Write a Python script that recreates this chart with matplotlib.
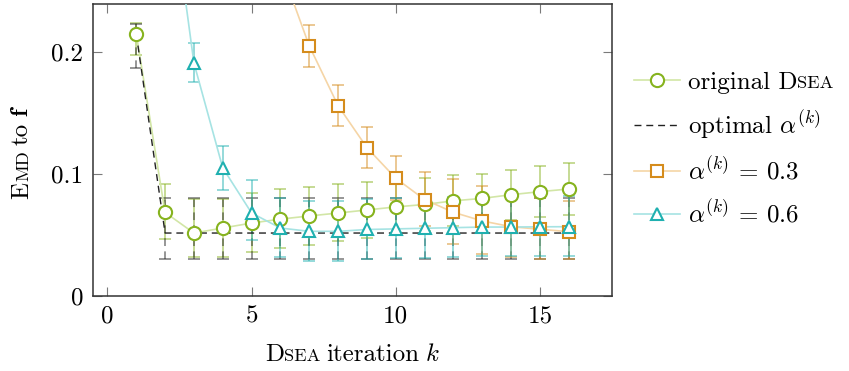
import matplotlib
matplotlib.use("Agg")
import matplotlib.pyplot as plt
from matplotlib.lines import Line2D
from matplotlib.transforms import IdentityTransform
import numpy as np

plt.rcParams['font.family'] = ['cmr10']
plt.rcParams['mathtext.fontset'] = 'cm'
plt.rcParams['axes.unicode_minus'] = False
plt.rcParams['axes.formatter.use_mathtext'] = True

# ---------------- data ----------------
k = list(range(1, 17))

orig_y = [0.2148, 0.0685, 0.0516, 0.0557, 0.0598, 0.0630, 0.0656, 0.0680,
          0.0705, 0.0730, 0.0750, 0.0780, 0.0800, 0.0830, 0.0855, 0.0877]
orig_lo = [0.017, 0.022, 0.020, 0.024, 0.024, 0.024, 0.024, 0.023,
           0.023, 0.022, 0.022, 0.021, 0.021, 0.021, 0.021, 0.021]
orig_hi = [0.009, 0.023, 0.028, 0.024, 0.025, 0.025, 0.024, 0.024,
           0.023, 0.023, 0.022, 0.021, 0.020, 0.020, 0.021, 0.021]

opt_y = [0.2148, 0.0516, 0.0516, 0.0516, 0.0516, 0.0516, 0.0516, 0.0516,
         0.0516, 0.0516, 0.0516, 0.0516, 0.0516, 0.0516, 0.0516, 0.0516]
opt_lo = [0.028, 0.021, 0.021, 0.021, 0.021, 0.021, 0.021, 0.021,
          0.021, 0.021, 0.021, 0.021, 0.021, 0.021, 0.021, 0.021]
opt_hi = [0.008, 0.029, 0.029, 0.029, 0.029, 0.029, 0.029, 0.029,
          0.029, 0.029, 0.029, 0.029, 0.029, 0.029, 0.029, 0.029]

a03_y = [0.62, 0.52, 0.43, 0.36, 0.30, 0.270, 0.205, 0.156,
         0.1216, 0.0965, 0.0790, 0.0686, 0.0615, 0.0568, 0.0547, 0.0527]
a03_lo = [0.02, 0.02, 0.02, 0.02, 0.02, 0.017, 0.017, 0.017,
          0.017, 0.018, 0.022, 0.026, 0.027, 0.025, 0.024, 0.022]
a03_hi = [0.02, 0.02, 0.02, 0.02, 0.02, 0.017, 0.017, 0.017,
          0.017, 0.018, 0.023, 0.027, 0.029, 0.027, 0.026, 0.025]

a06_y = [0.60, 0.366, 0.191, 0.105, 0.068, 0.0557, 0.0530, 0.0530,
         0.0545, 0.0550, 0.0555, 0.0560, 0.0565, 0.0565, 0.0567, 0.0568]
a06_lo = [0.02, 0.018, 0.016, 0.018, 0.022, 0.024, 0.024, 0.024,
          0.024, 0.024, 0.024, 0.024, 0.024, 0.024, 0.024, 0.024]
a06_hi = [0.02, 0.018, 0.016, 0.018, 0.027, 0.025, 0.025, 0.025,
          0.025, 0.025, 0.025, 0.025, 0.025, 0.025, 0.025, 0.025]

xticks = [0, 5, 10, 15]
yticks = [0, 0.1, 0.2]
ytick_labels = ['0', '0.1', '0.2']

# ---------------- style ----------------
GREEN, GREEN_L = '#86b31e', '#d2e6a6'
ORANGE, ORANGE_L = '#d58c1c', '#f5d5a6'
CYAN, CYAN_L = '#1fb0b0', '#a6e3e3'
BLACK = '#222222'
FS = 18
DASH = (0, (5, 3.5))

W, H = 849, 371
fig = plt.figure(figsize=(W / 100, H / 100), dpi=100)
ax = fig.add_axes([93 / W, 1 - 296 / H, (612 - 93) / W, (296 - 4) / H])

series = [
    (orig_y, orig_lo, orig_hi, GREEN, GREEN_L, 'o', 9.5, '-'),
    (opt_y, opt_lo, opt_hi, BLACK, BLACK, None, 0, DASH),
    (a03_y, a03_lo, a03_hi, ORANGE, ORANGE_L, 's', 9.0, '-'),
    (a06_y, a06_lo, a06_hi, CYAN, CYAN_L, '^', 9.0, '-'),
]

for i, (y, lo, hi, dark, light, mk, ms, ls) in enumerate(series):
    eb = ax.errorbar(k, y, yerr=[lo, hi], fmt='none', ecolor=dark, elinewidth=1.1,
                     capsize=4.5, capthick=1.1, alpha=0.6, zorder=2 + 0.1 * i)
    if mk is None:
        for c in eb[2]:
            c.set_linestyle(DASH)
    ax.plot(k, y, color=light if mk else BLACK, lw=1.2 if mk else 1.0,
            linestyle=ls, zorder=2.5 + 0.1 * i)
    if mk:
        ax.plot(k, y, linestyle='none', marker=mk, ms=ms, mfc='white', mec=dark,
                mew=1.5, zorder=4 + 0.1 * i)

ax.set_xlim(-0.5, 17.5)
ax.set_ylim(0, 0.2393)
ax.set_xticks(xticks)
ax.set_xticklabels([str(t) for t in xticks])
ax.set_yticks(yticks)
ax.set_yticklabels(ytick_labels)
ax.tick_params(direction='in', length=6.5, width=0.8, color='#7a7a7a',
               top=True, right=True, labelsize=FS, pad=7)
for s in ax.spines.values():
    s.set_linewidth(1.1)
    s.set_color('#333333')

# ---------------- text helper (small caps emulation) ----------------
fig.canvas.draw()
renderer = fig.canvas.get_renderer()


def place(pieces, x, y, rotation=0, center=True):
    texts, widths = [], []
    for s, size, g in pieces:
        t = fig.text(0, 0, s, fontsize=size, transform=IdentityTransform(),
                     rotation=rotation, rotation_mode='anchor', ha='left',
                     va='baseline')
        bb = t.get_window_extent(renderer)
        w = bb.height if rotation else bb.width
        texts.append(t)
        widths.append(w + g)
    total = sum(widths)
    pos = -total / 2 if center else 0
    for t, w in zip(texts, widths):
        if rotation:
            t.set_position((x, y + pos))
        else:
            t.set_position((x + pos, y))
        pos += w
    return texts


SC = 13.2
place([('D', FS, 0.5), ('SEA', SC, 5.5), ('iteration', FS, 5.5), ('$k$', FS, 0)],
      352, H - 361, rotation=0)
place([('E', FS, 0.5), ('MD', SC, 5.5), ('to', FS, 5.5), (r'$\mathbf{f}$', FS, 0)],
      28, H - 152, rotation=90)

# ---------------- legend ----------------
handles = [
    Line2D([], [], color=GREEN_L, lw=1.2, marker='o', ms=9.5, mfc='white', mec=GREEN, mew=1.5),
    Line2D([], [], color=BLACK, lw=1.0, linestyle=DASH),
    Line2D([], [], color=ORANGE_L, lw=1.2, marker='s', ms=9.0, mfc='white', mec=ORANGE, mew=1.5),
    Line2D([], [], color=CYAN_L, lw=1.2, marker='^', ms=9.0, mfc='white', mec=CYAN, mew=1.5),
]
labels = ['original D', r'optimal $\alpha^{(k)}$', r'$\alpha^{(k)}$ = 0.3', r'$\alpha^{(k)}$ = 0.6']
leg = fig.legend(handles, labels, loc='upper left', bbox_to_anchor=(634 / W, 1 - 71 / H),
                 frameon=False, fontsize=FS, handlelength=1.84, handletextpad=0.3,
                 labelspacing=0.6, borderpad=0, borderaxespad=0, numpoints=1)
fig.canvas.draw()
t0 = leg.get_texts()[0]
bb = t0.get_window_extent(renderer)
base = t0.get_transform().transform(t0.get_position())
fig.text(bb.x1 + 0.5, base[1], 'SEA', fontsize=SC, transform=IdentityTransform(),
         ha='left', va='baseline')

fig.savefig('out.png', dpi=100)
